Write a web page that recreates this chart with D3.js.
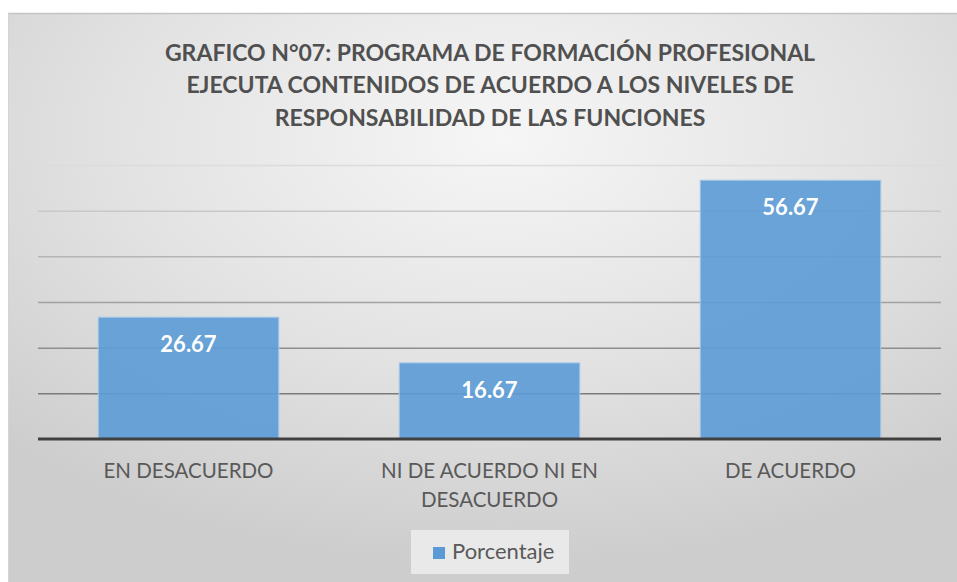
<!DOCTYPE html>
<html>
<head>
<meta charset="utf-8">
<script src="https://cdn.jsdelivr.net/npm/d3@7"></script>
<style>
  body { margin: 0; background: #fff; }
  text { font-family: Lato, "Open Sans", sans-serif; }
</style>
</head>
<body>
<div class="center"></div>
<script>
// chart data
var categories = ["EN DESACUERDO", "NI DE ACUERDO NI EN DESACUERDO", "DE ACUERDO"];
var values = [26.67, 16.67, 56.67];
var yTicks = [0, 10, 20, 30, 40, 50, 60];
var seriesName = "Porcentaje";
var titleLines = [
    "GRAFICO N°07: PROGRAMA DE FORMACIÓN PROFESIONAL",
    "EJECUTA CONTENIDOS DE ACUERDO A LOS NIVELES DE",
    "RESPONSABILIDAD DE LAS FUNCIONES"
];

var W = 957, H = 582;
var plot = {left: 38, right: 941, top: 165, bottom: 439};

var svg = d3.select(".center").append("svg")
    .attr("width", W)
    .attr("height", H);

// background gradient like the excel chart area
var defs = svg.append("defs");
var bg = defs.append("radialGradient")
    .attr("id", "bg")
    .attr("cx", "52%").attr("cy", "22%").attr("r", "75%");
bg.append("stop").attr("offset", "0%").attr("stop-color", "#f6f6f6");
bg.append("stop").attr("offset", "55%").attr("stop-color", "#e2e2e2");
bg.append("stop").attr("offset", "100%").attr("stop-color", "#cdcdcd");

svg.append("rect")
    .attr("x", 8).attr("y", 13)
    .attr("width", W - 8).attr("height", H - 13)
    .style("fill", "url(#bg)");
svg.append("line")
    .attr("x1", 8).attr("x2", W).attr("y1", 13.5).attr("y2", 13.5)
    .style("stroke", "#c4c4c4").style("stroke-width", 1.5);
svg.append("line")
    .attr("x1", 8.5).attr("x2", 8.5).attr("y1", 13).attr("y2", H)
    .style("stroke", "#d4d4d4").style("stroke-width", 1);

// scales
var x = d3.scaleBand()
    .domain(categories)
    .range([plot.left, plot.right])
    .paddingInner(0.4)
    .paddingOuter(0.2);
var y = d3.scaleLinear().domain([0, 60]).range([plot.bottom, plot.top]);
var gridColor = d3.scaleLinear().domain([10, 60]).range(["#7a7a7a", "#dcdcdc"]);

// gridlines
var grid = svg.append("g")
    .attr("transform", "translate(" + plot.left + ",0)")
    .call(d3.axisLeft(y).tickValues(yTicks.filter(function(d){ return d > 0; }))
        .tickSize(-(plot.right - plot.left)).tickFormat(""));
grid.select(".domain").remove();
grid.selectAll(".tick line")
    .style("stroke", function(d){ return gridColor(d); })
    .style("stroke-width", 1.5);

// bars
svg.selectAll(".bar")
    .data(values)
    .enter().append("rect")
    .attr("class", "bar")
    .attr("x", function(d, i){ return x(categories[i]); })
    .attr("y", function(d){ return y(d); })
    .attr("width", x.bandwidth())
    .attr("height", function(d){ return y(0) - y(d); })
    .style("fill", "#5b9bd5")
    .style("fill-opacity", 0.9)
    .style("stroke", "#a9c9ea")
    .style("stroke-width", 1);

// data labels
svg.selectAll(".lbl")
    .data(values)
    .enter().append("text")
    .attr("class", "lbl")
    .attr("x", function(d, i){ return x(categories[i]) + x.bandwidth() / 2; })
    .attr("y", function(d){ return y(d) + 35; })
    .attr("text-anchor", "middle")
    .style("fill", "#fff")
    .style("font-weight", "bold")
    .style("font-size", "22px")
    .text(function(d){ return d.toFixed(2); });

// x axis
var xAxis = svg.append("g")
    .attr("transform", "translate(0," + plot.bottom + ")")
    .call(d3.axisBottom(x).tickSize(0).tickPadding(0));
xAxis.select(".domain")
    .attr("d", "M" + plot.left + ",0H" + plot.right)
    .style("stroke", "#404040")
    .style("stroke-width", 3);
xAxis.selectAll(".tick text")
    .style("font-family", "Lato, sans-serif")
    .style("font-size", "20.5px")
    .style("fill", "#595959")
    .attr("dy", null)
    .attr("y", 39)
    .call(wrap, 250);

function wrap(sel, width) {
    sel.each(function() {
        var text = d3.select(this),
            words = text.text().split(/\s+/),
            line = [], lineNo = 0,
            y0 = text.attr("y"),
            tspan = text.text(null).append("tspan").attr("x", 0).attr("y", y0);
        words.forEach(function(w) {
            line.push(w);
            tspan.text(line.join(" "));
            if (tspan.node().getComputedTextLength() > width && line.length > 1) {
                line.pop();
                tspan.text(line.join(" "));
                line = [w];
                lineNo++;
                tspan = text.append("tspan").attr("x", 0)
                    .attr("y", +y0 + lineNo * 29).text(w);
            }
        });
    });
}

// title
svg.append("g").selectAll("text")
    .data(titleLines)
    .enter().append("text")
    .attr("x", 490)
    .attr("y", function(d, i){ return 61 + i * 32.3; })
    .attr("text-anchor", "middle")
    .style("font-weight", "bold")
    .style("font-size", "23px")
    .style("fill", "#505050")
    .text(function(d){ return d; });

// legend
var legend = svg.append("g");
legend.append("rect")
    .attr("x", 411).attr("y", 530)
    .attr("width", 158).attr("height", 44)
    .style("fill", "#e9e9e9");
legend.append("rect")
    .attr("x", 433).attr("y", 547)
    .attr("width", 12).attr("height", 12)
    .style("fill", "#5b9bd5");
legend.append("text")
    .attr("x", 452).attr("y", 559)
    .style("font-size", "22px")
    .style("fill", "#595959")
    .text(seriesName);
</script>
</body>
</html>
